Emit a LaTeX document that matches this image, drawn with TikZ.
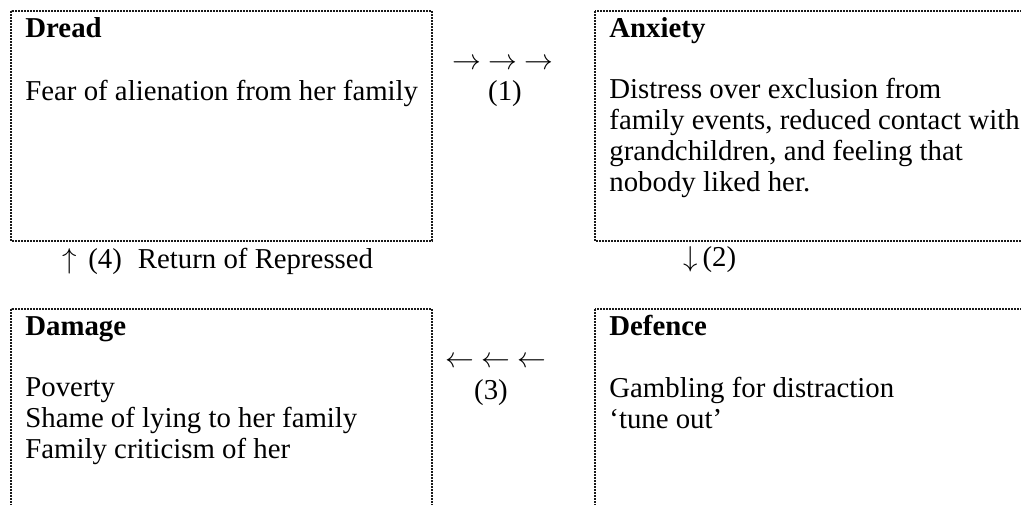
\documentclass[tikz,border=0pt]{standalone}
\usepackage{fontspec}
\setmainfont{Liberation Serif}
\usepackage{xcolor}
\usepackage{tikz}
\usetikzlibrary{positioning}
\definecolor{cyInk}{HTML}{000000}
\definecolor{cyFrame}{HTML}{1A1A1A}
\tikzset{
  cy diagram/.style={font=\fontsize{14.4}{15.5}\selectfont, text=cyInk},
  cy frame/.style={draw=cyFrame, line width=0.55pt,
    dash pattern=on 0.9pt off 0.6pt},
  cy title/.style={font=\fontsize{14.4}{15.5}\selectfont\bfseries,
    anchor=base west, inner sep=0pt},
  cy text/.style={anchor=north west, align=left, inner sep=0pt,
    execute at begin node=\strut},
  cy step/.style={anchor=base, inner sep=0pt}
}
\begin{document}
\begin{tikzpicture}[cy diagram,x=0.5pt,y=-0.5pt]
\useasboundingbox (0,0) rectangle (1021,504);
\clip (0,0) rectangle (1021,504);
% the four stages
\draw[cy frame] (11,11) rectangle (432,241);
\draw[cy frame] (595,11) rectangle (1030,241);
\draw[cy frame] (11,309) rectangle (432,515);
\draw[cy frame] (595,309) rectangle (1030,515);
\node[cy title] (dread) at (25,37) {Dread};
\node[cy title] (anxiety) at (609,37) {Anxiety};
\node[cy title] (damage) at (25,335) {Damage};
\node[cy title] (defence) at (609,335) {Defence};
% text tops sit one strut (21.7) above the first baseline
\node[cy text] (dreadtext) at (25,78.3) {Fear of alienation from her family};
\node[cy text] (anxietytext) at (609,78.3) {Distress over exclusion from\\
  family events, reduced contact with\\grandchildren, and feeling that\\
  nobody liked her.};
\node[cy text] (damagetext) at (25,377.3) {Poverty\\Shame of lying to her family\\
  Family criticism of her};
\node[cy text] (defencetext) at (609,377.3) {Gambling for distraction\\‘tune out’};
% steps between the stages
\node[cy step] (step1) at (503,69) {$\rightarrow$ $\rightarrow$ $\rightarrow$};
\node[cy step] (num1) at (505,100) {(1)};
\node[cy step, anchor=base west] (step2) at (683,266) {$\downarrow$\,(2)};
\node[cy step] (step3) at (496,367) {$\leftarrow$ $\leftarrow$ $\leftarrow$};
\node[cy step] (num3) at (491,399) {(3)};
\node[cy step, anchor=base west] (step4) at (62,268)
  {$\uparrow$\hspace{5.8pt}(4)\hspace{8pt}Return of Repressed};
\end{tikzpicture}
\end{document}
